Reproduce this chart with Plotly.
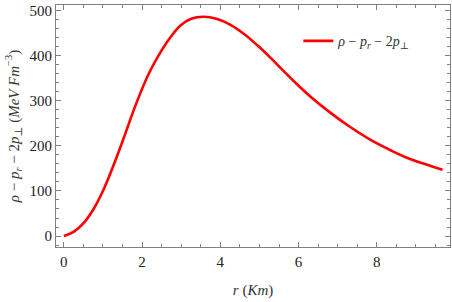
import plotly.graph_objects as go

r_vals = [0, 0.25, 0.51, 0.76, 1.02, 1.27, 1.52, 1.85, 2.18, 2.52, 2.73, 2.99, 3.24, 3.57, 3.92,
          4.26, 4.60, 4.94, 5.28, 5.62, 5.96, 6.30, 6.81, 7.32, 7.83, 8.34, 8.85, 9.36, 9.68]
y_vals = [0, 9, 29, 60, 104, 157, 215, 294, 362, 415, 442, 468, 482, 487, 482,
          469, 449, 424, 396, 366, 337, 310, 274, 242, 214, 191, 171, 156, 147]

x_ticks = [0, 2, 4, 6, 8]
y_ticks = [0, 100, 200, 300, 400, 500]

font_family = "Liberation Serif, DejaVu Serif, serif"
legend_name = "<i>ρ</i> − <i>p</i><sub><i>r</i></sub> − 2<i>p</i><sub>⊥</sub>"

fig = go.Figure()
fig.add_trace(go.Scatter(x=r_vals, y=y_vals, mode="lines",
                         line=dict(color="#ff0000", width=2.6, shape="spline", smoothing=1.2),
                         name=legend_name, showlegend=True))

axis_common = dict(showgrid=False, zeroline=False, showline=True, linecolor="#808080", linewidth=1,
                   mirror="allticks", ticks="inside", tickcolor="#808080", ticklen=5,
                   automargin=False,
                   tickfont=dict(family=font_family, size=15, color="#222"))

fig.update_layout(
    width=452, height=302,
    margin=dict(l=56, r=2, t=5, b=55),
    paper_bgcolor="white", plot_bgcolor="white",
    font=dict(family=font_family, color="#333"),
    xaxis=dict(range=[-0.2, 9.87], tickvals=x_ticks, ticklabelstandoff=1,
               minor=dict(dtick=0.5, tick0=0, ticks="inside", ticklen=3, tickcolor="#808080"),
               title=dict(text="<i>r</i> (<i>Km</i>)", font=dict(size=15, family=font_family, color="#333"), standoff=15),
               **axis_common),
    yaxis=dict(range=[-24.4, 513], tickvals=y_ticks,
               minor=dict(dtick=20, tick0=0, ticks="inside", ticklen=3, tickcolor="#808080"),
               title=dict(text="<i>ρ</i> − <i>p</i><sub><i>r</i></sub> − 2<i>p</i><sub>⊥</sub> (<i>MeV Fm</i><sup>−3</sup>)",
                          font=dict(size=15, family=font_family, color="#333"), standoff=6),
               **axis_common),
    legend=dict(x=0.615, y=0.85, xanchor="left", yanchor="middle", bgcolor="rgba(0,0,0,0)",
                font=dict(family=font_family, size=14, color="#333")),
)

fig.write_html("out.html", config={"displayModeBar": False},
               post_script="document.body.style.margin='0';document.body.style.overflow='hidden';")
